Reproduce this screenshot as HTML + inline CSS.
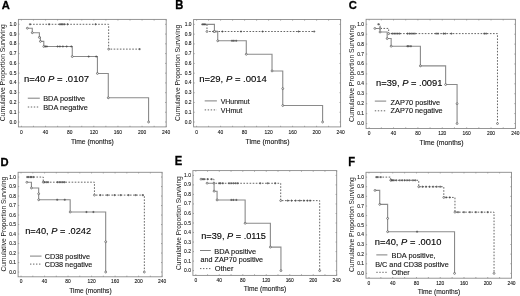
<!DOCTYPE html>
<html><head><meta charset="utf-8"><style>
html,body{margin:0;padding:0;background:#fff;}
svg{display:block;font-family:"Liberation Sans", sans-serif;filter:blur(0.3px);}
</style></head><body>
<svg width="520" height="296" viewBox="0 0 520 296">
<rect width="520" height="296" fill="#fff"/>
<text transform="translate(1.8 9.2) scale(1 1.0)" font-size="11.2" font-weight="bold" fill="#000" stroke="#000" stroke-width="0.3">A</text>
<rect x="18.4" y="19.4" width="147.8" height="107.5" fill="none" stroke="#8a8a8a" stroke-width="0.9"/>
<path d="M21.42 126.9v-1.1M21.42 19.4v1.1M33.48 126.9v-1.1M33.48 19.4v1.1M45.55 126.9v-1.1M45.55 19.4v1.1M57.61 126.9v-1.1M57.61 19.4v1.1M69.68 126.9v-1.1M69.68 19.4v1.1M81.74 126.9v-1.1M81.74 19.4v1.1M93.81 126.9v-1.1M93.81 19.4v1.1M105.87 126.9v-1.1M105.87 19.4v1.1M117.94 126.9v-1.1M117.94 19.4v1.1M130 126.9v-1.1M130 19.4v1.1M142.07 126.9v-1.1M142.07 19.4v1.1M154.13 126.9v-1.1M154.13 19.4v1.1M166.2 126.9v-1.1M166.2 19.4v1.1M18.4 122.01h1.1M166.2 122.01h-1.1M18.4 112.24h1.1M166.2 112.24h-1.1M18.4 102.47h1.1M166.2 102.47h-1.1M18.4 92.7h1.1M166.2 92.7h-1.1M18.4 82.92h1.1M166.2 82.92h-1.1M18.4 73.15h1.1M166.2 73.15h-1.1M18.4 63.38h1.1M166.2 63.38h-1.1M18.4 53.6h1.1M166.2 53.6h-1.1M18.4 43.83h1.1M166.2 43.83h-1.1M18.4 34.06h1.1M166.2 34.06h-1.1M18.4 24.29h1.1M166.2 24.29h-1.1" stroke="#8a8a8a" stroke-width="0.8" fill="none"/>
<text x="21.42" y="133.5" font-size="4.9" text-anchor="middle" fill="#151515" stroke="#151515" stroke-width="0.1">0</text>
<text x="45.55" y="133.5" font-size="4.9" text-anchor="middle" fill="#151515" stroke="#151515" stroke-width="0.1">40</text>
<text x="69.68" y="133.5" font-size="4.9" text-anchor="middle" fill="#151515" stroke="#151515" stroke-width="0.1">80</text>
<text x="93.81" y="133.5" font-size="4.9" text-anchor="middle" fill="#151515" stroke="#151515" stroke-width="0.1">120</text>
<text x="117.94" y="133.5" font-size="4.9" text-anchor="middle" fill="#151515" stroke="#151515" stroke-width="0.1">160</text>
<text x="142.07" y="133.5" font-size="4.9" text-anchor="middle" fill="#151515" stroke="#151515" stroke-width="0.1">200</text>
<text x="166.2" y="133.5" font-size="4.9" text-anchor="middle" fill="#151515" stroke="#151515" stroke-width="0.1">240</text>
<text x="16.4" y="123.51" font-size="4.9" text-anchor="end" fill="#151515" stroke="#151515" stroke-width="0.1">0.0</text>
<text x="16.4" y="113.74" font-size="4.9" text-anchor="end" fill="#151515" stroke="#151515" stroke-width="0.1">0.1</text>
<text x="16.4" y="103.97" font-size="4.9" text-anchor="end" fill="#151515" stroke="#151515" stroke-width="0.1">0.2</text>
<text x="16.4" y="94.2" font-size="4.9" text-anchor="end" fill="#151515" stroke="#151515" stroke-width="0.1">0.3</text>
<text x="16.4" y="84.42" font-size="4.9" text-anchor="end" fill="#151515" stroke="#151515" stroke-width="0.1">0.4</text>
<text x="16.4" y="74.65" font-size="4.9" text-anchor="end" fill="#151515" stroke="#151515" stroke-width="0.1">0.5</text>
<text x="16.4" y="64.88" font-size="4.9" text-anchor="end" fill="#151515" stroke="#151515" stroke-width="0.1">0.6</text>
<text x="16.4" y="55.1" font-size="4.9" text-anchor="end" fill="#151515" stroke="#151515" stroke-width="0.1">0.7</text>
<text x="16.4" y="45.33" font-size="4.9" text-anchor="end" fill="#151515" stroke="#151515" stroke-width="0.1">0.8</text>
<text x="16.4" y="35.56" font-size="4.9" text-anchor="end" fill="#151515" stroke="#151515" stroke-width="0.1">0.9</text>
<text x="16.4" y="25.79" font-size="4.9" text-anchor="end" fill="#151515" stroke="#151515" stroke-width="0.1">1.0</text>
<text x="70.9" y="143.6" font-size="6.5" textLength="42.9" lengthAdjust="spacingAndGlyphs" fill="#151515" stroke="#151515" stroke-width="0.1">Time (months)</text>
<text transform="translate(5.3 0) rotate(-90)" x="-121.2" y="0" font-size="6.5" textLength="96.9" lengthAdjust="spacingAndGlyphs" fill="#151515">Cumulative Proportion Surviving</text>
<path d="M29.98 24.29H108.65V49.11H139.66" stroke="#666" stroke-width="1.0" fill="none" stroke-dasharray="1.6 1.5"/>
<g fill="#fff" stroke="#4a4a4a" stroke-width="0.65"><circle cx="108.65" cy="49.11" r="0.95"/></g>
<path d="M48.01 24.29h2.2M49.11 23.19v2.2M58.8 24.29h2.2M59.9 23.19v2.2M60.13 24.29h2.2M61.23 23.19v2.2M61.64 24.29h2.2M62.74 23.19v2.2M63.15 24.29h2.2M64.25 23.19v2.2M66.41 24.29h2.2M67.51 23.19v2.2M94.46 24.29h2.2M95.56 23.19v2.2M28.88 24.29h2.2M29.98 23.19v2.2M138.56 49.11h2.2M139.66 48.01v2.2" stroke="#4a4a4a" stroke-width="0.7" fill="none"/>
<path d="M27.33 28.2H32.28V32.69H39.39V37.38H40.42V41.39H43.8V46.47H72.27V56.54H97.43V73.44H108.29V97.78H148.58V122.01" stroke="#8a8a8a" stroke-width="1.1" fill="none"/>
<g fill="#fff" stroke="#4a4a4a" stroke-width="0.65"><circle cx="27.33" cy="28.2" r="0.95"/><circle cx="32.28" cy="32.69" r="0.95"/><circle cx="39.39" cy="37.38" r="0.95"/><circle cx="40.42" cy="41.39" r="0.95"/><circle cx="43.8" cy="46.47" r="0.95"/><circle cx="72.27" cy="56.54" r="0.95"/><circle cx="97.43" cy="73.44" r="0.95"/><circle cx="108.29" cy="97.78" r="0.95"/><circle cx="148.58" cy="122.01" r="0.95"/></g>
<path d="M44.33 46.47h2.2M45.43 45.37v2.2M45.77 46.47h2.2M46.87 45.37v2.2M56.51 46.47h2.2M57.61 45.37v2.2M58.8 46.47h2.2M59.9 45.37v2.2M61.76 46.47h2.2M62.86 45.37v2.2M65.56 46.47h2.2M66.66 45.37v2.2M70.21 46.47h2.2M71.31 45.37v2.2M87.58 56.54h2.2M88.68 55.44v2.2M95.12 56.54h2.2M96.22 55.44v2.2" stroke="#4a4a4a" stroke-width="0.7" fill="none"/>
<text x="24" y="82.1" font-size="9.5" textLength="65" lengthAdjust="spacingAndGlyphs" fill="#000" stroke="#000" stroke-width="0.12" xml:space="preserve">n=40 <tspan font-style="italic">P</tspan> = .0107</text>
<path d="M27.8 98.2H39.8" stroke="#707070" stroke-width="0.9"/>
<path d="M27.8 107H39.8" stroke="#666" stroke-width="1.0" stroke-dasharray="1.4 1.6"/>
<text x="43.2" y="101.3" font-size="7.3" textLength="41.8" lengthAdjust="spacingAndGlyphs" fill="#151515" stroke="#151515" stroke-width="0.12">BDA positive</text>
<text x="43.2" y="109.8" font-size="7.3" textLength="44.7" lengthAdjust="spacingAndGlyphs" fill="#151515" stroke="#151515" stroke-width="0.12">BDA negative</text>
<text transform="translate(175.3 9) scale(1 1.1)" font-size="11.2" font-weight="bold" fill="#000" stroke="#000" stroke-width="0.3">B</text>
<rect x="193.6" y="19.5" width="147" height="107.4" fill="none" stroke="#8a8a8a" stroke-width="0.9"/>
<path d="M196.6 126.9v-1.1M196.6 19.5v1.1M208.6 126.9v-1.1M208.6 19.5v1.1M220.6 126.9v-1.1M220.6 19.5v1.1M232.6 126.9v-1.1M232.6 19.5v1.1M244.6 126.9v-1.1M244.6 19.5v1.1M256.6 126.9v-1.1M256.6 19.5v1.1M268.6 126.9v-1.1M268.6 19.5v1.1M280.6 126.9v-1.1M280.6 19.5v1.1M292.6 126.9v-1.1M292.6 19.5v1.1M304.6 126.9v-1.1M304.6 19.5v1.1M316.6 126.9v-1.1M316.6 19.5v1.1M328.6 126.9v-1.1M328.6 19.5v1.1M340.6 126.9v-1.1M340.6 19.5v1.1M193.6 122.02h1.1M340.6 122.02h-1.1M193.6 112.25h1.1M340.6 112.25h-1.1M193.6 102.49h1.1M340.6 102.49h-1.1M193.6 92.73h1.1M340.6 92.73h-1.1M193.6 82.96h1.1M340.6 82.96h-1.1M193.6 73.2h1.1M340.6 73.2h-1.1M193.6 63.44h1.1M340.6 63.44h-1.1M193.6 53.67h1.1M340.6 53.67h-1.1M193.6 43.91h1.1M340.6 43.91h-1.1M193.6 34.15h1.1M340.6 34.15h-1.1M193.6 24.38h1.1M340.6 24.38h-1.1" stroke="#8a8a8a" stroke-width="0.8" fill="none"/>
<text x="196.6" y="133.5" font-size="4.9" text-anchor="middle" fill="#151515" stroke="#151515" stroke-width="0.1">0</text>
<text x="220.6" y="133.5" font-size="4.9" text-anchor="middle" fill="#151515" stroke="#151515" stroke-width="0.1">40</text>
<text x="244.6" y="133.5" font-size="4.9" text-anchor="middle" fill="#151515" stroke="#151515" stroke-width="0.1">80</text>
<text x="268.6" y="133.5" font-size="4.9" text-anchor="middle" fill="#151515" stroke="#151515" stroke-width="0.1">120</text>
<text x="292.6" y="133.5" font-size="4.9" text-anchor="middle" fill="#151515" stroke="#151515" stroke-width="0.1">160</text>
<text x="316.6" y="133.5" font-size="4.9" text-anchor="middle" fill="#151515" stroke="#151515" stroke-width="0.1">200</text>
<text x="340.6" y="133.5" font-size="4.9" text-anchor="middle" fill="#151515" stroke="#151515" stroke-width="0.1">240</text>
<text x="191.6" y="123.52" font-size="4.9" text-anchor="end" fill="#151515" stroke="#151515" stroke-width="0.1">0.0</text>
<text x="191.6" y="113.75" font-size="4.9" text-anchor="end" fill="#151515" stroke="#151515" stroke-width="0.1">0.1</text>
<text x="191.6" y="103.99" font-size="4.9" text-anchor="end" fill="#151515" stroke="#151515" stroke-width="0.1">0.2</text>
<text x="191.6" y="94.23" font-size="4.9" text-anchor="end" fill="#151515" stroke="#151515" stroke-width="0.1">0.3</text>
<text x="191.6" y="84.46" font-size="4.9" text-anchor="end" fill="#151515" stroke="#151515" stroke-width="0.1">0.4</text>
<text x="191.6" y="74.7" font-size="4.9" text-anchor="end" fill="#151515" stroke="#151515" stroke-width="0.1">0.5</text>
<text x="191.6" y="64.94" font-size="4.9" text-anchor="end" fill="#151515" stroke="#151515" stroke-width="0.1">0.6</text>
<text x="191.6" y="55.17" font-size="4.9" text-anchor="end" fill="#151515" stroke="#151515" stroke-width="0.1">0.7</text>
<text x="191.6" y="45.41" font-size="4.9" text-anchor="end" fill="#151515" stroke="#151515" stroke-width="0.1">0.8</text>
<text x="191.6" y="35.65" font-size="4.9" text-anchor="end" fill="#151515" stroke="#151515" stroke-width="0.1">0.9</text>
<text x="191.6" y="25.88" font-size="4.9" text-anchor="end" fill="#151515" stroke="#151515" stroke-width="0.1">1.0</text>
<text x="245.6" y="143.6" font-size="6.5" textLength="44" lengthAdjust="spacingAndGlyphs" fill="#151515" stroke="#151515" stroke-width="0.1">Time (months)</text>
<text transform="translate(180.4 0) rotate(-90)" x="-121" y="0" font-size="6.5" textLength="96.2" lengthAdjust="spacingAndGlyphs" fill="#151515">Cumulative Proportion Surviving</text>
<path d="M206.98 24.38H206.98V31.51H314.2" stroke="#666" stroke-width="1.0" fill="none" stroke-dasharray="1.6 1.5"/>
<g fill="#fff" stroke="#4a4a4a" stroke-width="0.65"><circle cx="206.98" cy="31.51" r="0.95"/></g>
<path d="M212.3 31.51h2.2M213.4 30.41v2.2M214.1 31.51h2.2M215.2 30.41v2.2M215.9 31.51h2.2M217 30.41v2.2M221.3 31.51h2.2M222.4 30.41v2.2M239.9 31.51h2.2M241 30.41v2.2M261.5 31.51h2.2M262.6 30.41v2.2M297.5 31.51h2.2M298.6 30.41v2.2M313.1 31.51h2.2M314.2 30.41v2.2" stroke="#4a4a4a" stroke-width="0.7" fill="none"/>
<path d="M202.3 24.38H214.42V31.51H217.72V40.78H246.28V54.26H272.02V70.95H282.76V88.63H282.76V105.52H322.6V122.02" stroke="#8a8a8a" stroke-width="1.1" fill="none"/>
<g fill="#fff" stroke="#4a4a4a" stroke-width="0.65"><circle cx="214.42" cy="31.51" r="0.95"/><circle cx="217.72" cy="40.78" r="0.95"/><circle cx="246.28" cy="54.26" r="0.95"/><circle cx="272.02" cy="70.95" r="0.95"/><circle cx="282.76" cy="88.63" r="0.95"/><circle cx="282.76" cy="105.52" r="0.95"/><circle cx="322.6" cy="122.02" r="0.95"/></g>
<path d="M230.9 40.78h2.2M232 39.68v2.2M232.7 40.78h2.2M233.8 39.68v2.2M235.1 40.78h2.2M236.2 39.68v2.2M202.7 24.38h2.2M203.8 23.28v2.2M203.9 24.38h2.2M205 23.28v2.2M201.2 24.38h2.2M202.3 23.28v2.2" stroke="#4a4a4a" stroke-width="0.7" fill="none"/>
<text x="199.2" y="82.4" font-size="9.5" textLength="67.7" lengthAdjust="spacingAndGlyphs" fill="#000" stroke="#000" stroke-width="0.12" xml:space="preserve">n=29, <tspan font-style="italic">P</tspan> = .0014</text>
<path d="M204.7 100.9H216.9" stroke="#707070" stroke-width="0.9"/>
<path d="M204.7 109.9H216.9" stroke="#666" stroke-width="1.0" stroke-dasharray="1.4 1.6"/>
<text x="220.7" y="103.8" font-size="7.3" textLength="28.9" lengthAdjust="spacingAndGlyphs" fill="#151515" stroke="#151515" stroke-width="0.12">VHunmut</text>
<text x="220.7" y="112.5" font-size="7.3" textLength="21.5" lengthAdjust="spacingAndGlyphs" fill="#151515" stroke="#151515" stroke-width="0.12">VHmut</text>
<text transform="translate(348.8 9.2) scale(1 1.02)" font-size="11.2" font-weight="bold" fill="#000" stroke="#000" stroke-width="0.3">C</text>
<rect x="366.1" y="19.3" width="149.3" height="109.2" fill="none" stroke="#8a8a8a" stroke-width="0.9"/>
<path d="M369.15 128.5v-1.1M369.15 19.3v1.1M381.33 128.5v-1.1M381.33 19.3v1.1M393.52 128.5v-1.1M393.52 19.3v1.1M405.71 128.5v-1.1M405.71 19.3v1.1M417.9 128.5v-1.1M417.9 19.3v1.1M430.09 128.5v-1.1M430.09 19.3v1.1M442.27 128.5v-1.1M442.27 19.3v1.1M454.46 128.5v-1.1M454.46 19.3v1.1M466.65 128.5v-1.1M466.65 19.3v1.1M478.84 128.5v-1.1M478.84 19.3v1.1M491.02 128.5v-1.1M491.02 19.3v1.1M503.21 128.5v-1.1M503.21 19.3v1.1M515.4 128.5v-1.1M515.4 19.3v1.1M366.1 123.54h1.1M515.4 123.54h-1.1M366.1 113.61h1.1M515.4 113.61h-1.1M366.1 103.68h1.1M515.4 103.68h-1.1M366.1 93.75h1.1M515.4 93.75h-1.1M366.1 83.83h1.1M515.4 83.83h-1.1M366.1 73.9h1.1M515.4 73.9h-1.1M366.1 63.97h1.1M515.4 63.97h-1.1M366.1 54.05h1.1M515.4 54.05h-1.1M366.1 44.12h1.1M515.4 44.12h-1.1M366.1 34.19h1.1M515.4 34.19h-1.1M366.1 24.26h1.1M515.4 24.26h-1.1" stroke="#8a8a8a" stroke-width="0.8" fill="none"/>
<text x="369.15" y="135.1" font-size="4.9" text-anchor="middle" fill="#151515" stroke="#151515" stroke-width="0.1">0</text>
<text x="393.52" y="135.1" font-size="4.9" text-anchor="middle" fill="#151515" stroke="#151515" stroke-width="0.1">40</text>
<text x="417.9" y="135.1" font-size="4.9" text-anchor="middle" fill="#151515" stroke="#151515" stroke-width="0.1">80</text>
<text x="442.27" y="135.1" font-size="4.9" text-anchor="middle" fill="#151515" stroke="#151515" stroke-width="0.1">120</text>
<text x="466.65" y="135.1" font-size="4.9" text-anchor="middle" fill="#151515" stroke="#151515" stroke-width="0.1">160</text>
<text x="491.02" y="135.1" font-size="4.9" text-anchor="middle" fill="#151515" stroke="#151515" stroke-width="0.1">200</text>
<text x="515.4" y="135.1" font-size="4.9" text-anchor="middle" fill="#151515" stroke="#151515" stroke-width="0.1">240</text>
<text x="364.1" y="125.04" font-size="4.9" text-anchor="end" fill="#151515" stroke="#151515" stroke-width="0.1">0.0</text>
<text x="364.1" y="115.11" font-size="4.9" text-anchor="end" fill="#151515" stroke="#151515" stroke-width="0.1">0.1</text>
<text x="364.1" y="105.18" font-size="4.9" text-anchor="end" fill="#151515" stroke="#151515" stroke-width="0.1">0.2</text>
<text x="364.1" y="95.25" font-size="4.9" text-anchor="end" fill="#151515" stroke="#151515" stroke-width="0.1">0.3</text>
<text x="364.1" y="85.33" font-size="4.9" text-anchor="end" fill="#151515" stroke="#151515" stroke-width="0.1">0.4</text>
<text x="364.1" y="75.4" font-size="4.9" text-anchor="end" fill="#151515" stroke="#151515" stroke-width="0.1">0.5</text>
<text x="364.1" y="65.47" font-size="4.9" text-anchor="end" fill="#151515" stroke="#151515" stroke-width="0.1">0.6</text>
<text x="364.1" y="55.55" font-size="4.9" text-anchor="end" fill="#151515" stroke="#151515" stroke-width="0.1">0.7</text>
<text x="364.1" y="45.62" font-size="4.9" text-anchor="end" fill="#151515" stroke="#151515" stroke-width="0.1">0.8</text>
<text x="364.1" y="35.69" font-size="4.9" text-anchor="end" fill="#151515" stroke="#151515" stroke-width="0.1">0.9</text>
<text x="364.1" y="25.76" font-size="4.9" text-anchor="end" fill="#151515" stroke="#151515" stroke-width="0.1">1.0</text>
<text x="419.6" y="145.1" font-size="6.5" textLength="44" lengthAdjust="spacingAndGlyphs" fill="#151515" stroke="#151515" stroke-width="0.1">Time (months)</text>
<text transform="translate(353.9 0) rotate(-90)" x="-122" y="0" font-size="6.5" textLength="97" lengthAdjust="spacingAndGlyphs" fill="#151515">Cumulative Proportion Surviving</text>
<path d="M378.35 24.26H380.05V28.43H388.65V33.6H497.48V123.54" stroke="#666" stroke-width="1.0" fill="none" stroke-dasharray="1.6 1.5"/>
<g fill="#fff" stroke="#4a4a4a" stroke-width="0.65"><circle cx="380.05" cy="28.43" r="0.95"/><circle cx="388.65" cy="33.6" r="0.95"/><circle cx="497.48" cy="123.54" r="0.95"/></g>
<path d="M391.2 33.6h2.2M392.3 32.5v2.2M393.03 33.6h2.2M394.13 32.5v2.2M394.86 33.6h2.2M395.96 32.5v2.2M396.69 33.6h2.2M397.79 32.5v2.2M398.52 33.6h2.2M399.62 32.5v2.2M406.44 33.6h2.2M407.54 32.5v2.2M408.27 33.6h2.2M409.37 32.5v2.2M410.09 33.6h2.2M411.19 32.5v2.2M411.92 33.6h2.2M413.02 32.5v2.2M413.75 33.6h2.2M414.85 32.5v2.2M435.08 33.6h2.2M436.18 32.5v2.2M436.91 33.6h2.2M438.01 32.5v2.2M442.39 33.6h2.2M443.49 32.5v2.2M444.22 33.6h2.2M445.32 32.5v2.2M450.31 33.6h2.2M451.41 32.5v2.2M483.22 33.6h2.2M484.32 32.5v2.2M485.05 33.6h2.2M486.15 32.5v2.2M377.25 24.26h2.2M378.35 23.16v2.2" stroke="#4a4a4a" stroke-width="0.7" fill="none"/>
<path d="M374.88 28.43H380.05V32.01H387.18V38.56H391.15V46.2H420.4V65.86H445.63V84.52H457.08V103.68H457.08V123.54" stroke="#8a8a8a" stroke-width="1.1" fill="none"/>
<g fill="#fff" stroke="#4a4a4a" stroke-width="0.65"><circle cx="374.88" cy="28.43" r="0.95"/><circle cx="380.05" cy="32.01" r="0.95"/><circle cx="387.18" cy="38.56" r="0.95"/><circle cx="391.15" cy="46.2" r="0.95"/><circle cx="420.4" cy="65.86" r="0.95"/><circle cx="445.63" cy="84.52" r="0.95"/><circle cx="457.08" cy="103.68" r="0.95"/><circle cx="457.08" cy="123.54" r="0.95"/></g>
<path d="M406.32 46.2h2.2M407.42 45.1v2.2M407.66 46.2h2.2M408.76 45.1v2.2M409.79 46.2h2.2M410.89 45.1v2.2" stroke="#4a4a4a" stroke-width="0.7" fill="none"/>
<text x="376" y="85.5" font-size="9.5" textLength="66.4" lengthAdjust="spacingAndGlyphs" fill="#000" stroke="#000" stroke-width="0.12" xml:space="preserve">n=39, <tspan font-style="italic">P</tspan> = .0091</text>
<path d="M374.8 101.1H386.2" stroke="#707070" stroke-width="0.9"/>
<path d="M374.8 110.8H386.2" stroke="#666" stroke-width="1.0" stroke-dasharray="1.4 1.6"/>
<text x="390.6" y="104.7" font-size="7.3" textLength="49.5" lengthAdjust="spacingAndGlyphs" fill="#151515" stroke="#151515" stroke-width="0.12">ZAP70 positive</text>
<text x="390.6" y="113.2" font-size="7.3" textLength="52.1" lengthAdjust="spacingAndGlyphs" fill="#151515" stroke="#151515" stroke-width="0.12">ZAP70 negative</text>
<text transform="translate(0.5 165.7) scale(1 1.05)" font-size="11.2" font-weight="bold" fill="#000" stroke="#000" stroke-width="0.3">D</text>
<rect x="18.1" y="172.3" width="144" height="104.5" fill="none" stroke="#8a8a8a" stroke-width="0.9"/>
<path d="M21.04 276.8v-1.1M21.04 172.3v1.1M32.79 276.8v-1.1M32.79 172.3v1.1M44.55 276.8v-1.1M44.55 172.3v1.1M56.3 276.8v-1.1M56.3 172.3v1.1M68.06 276.8v-1.1M68.06 172.3v1.1M79.81 276.8v-1.1M79.81 172.3v1.1M91.57 276.8v-1.1M91.57 172.3v1.1M103.32 276.8v-1.1M103.32 172.3v1.1M115.08 276.8v-1.1M115.08 172.3v1.1M126.83 276.8v-1.1M126.83 172.3v1.1M138.59 276.8v-1.1M138.59 172.3v1.1M150.34 276.8v-1.1M150.34 172.3v1.1M162.1 276.8v-1.1M162.1 172.3v1.1M18.1 272.05h1.1M162.1 272.05h-1.1M18.1 262.55h1.1M162.1 262.55h-1.1M18.1 253.05h1.1M162.1 253.05h-1.1M18.1 243.55h1.1M162.1 243.55h-1.1M18.1 234.05h1.1M162.1 234.05h-1.1M18.1 224.55h1.1M162.1 224.55h-1.1M18.1 215.05h1.1M162.1 215.05h-1.1M18.1 205.55h1.1M162.1 205.55h-1.1M18.1 196.05h1.1M162.1 196.05h-1.1M18.1 186.55h1.1M162.1 186.55h-1.1M18.1 177.05h1.1M162.1 177.05h-1.1" stroke="#8a8a8a" stroke-width="0.8" fill="none"/>
<text x="21.04" y="283.4" font-size="4.9" text-anchor="middle" fill="#151515" stroke="#151515" stroke-width="0.1">0</text>
<text x="44.55" y="283.4" font-size="4.9" text-anchor="middle" fill="#151515" stroke="#151515" stroke-width="0.1">40</text>
<text x="68.06" y="283.4" font-size="4.9" text-anchor="middle" fill="#151515" stroke="#151515" stroke-width="0.1">80</text>
<text x="91.57" y="283.4" font-size="4.9" text-anchor="middle" fill="#151515" stroke="#151515" stroke-width="0.1">120</text>
<text x="115.08" y="283.4" font-size="4.9" text-anchor="middle" fill="#151515" stroke="#151515" stroke-width="0.1">160</text>
<text x="138.59" y="283.4" font-size="4.9" text-anchor="middle" fill="#151515" stroke="#151515" stroke-width="0.1">200</text>
<text x="162.1" y="283.4" font-size="4.9" text-anchor="middle" fill="#151515" stroke="#151515" stroke-width="0.1">240</text>
<text x="16.1" y="273.55" font-size="4.9" text-anchor="end" fill="#151515" stroke="#151515" stroke-width="0.1">0.0</text>
<text x="16.1" y="264.05" font-size="4.9" text-anchor="end" fill="#151515" stroke="#151515" stroke-width="0.1">0.1</text>
<text x="16.1" y="254.55" font-size="4.9" text-anchor="end" fill="#151515" stroke="#151515" stroke-width="0.1">0.2</text>
<text x="16.1" y="245.05" font-size="4.9" text-anchor="end" fill="#151515" stroke="#151515" stroke-width="0.1">0.3</text>
<text x="16.1" y="235.55" font-size="4.9" text-anchor="end" fill="#151515" stroke="#151515" stroke-width="0.1">0.4</text>
<text x="16.1" y="226.05" font-size="4.9" text-anchor="end" fill="#151515" stroke="#151515" stroke-width="0.1">0.5</text>
<text x="16.1" y="216.55" font-size="4.9" text-anchor="end" fill="#151515" stroke="#151515" stroke-width="0.1">0.6</text>
<text x="16.1" y="207.05" font-size="4.9" text-anchor="end" fill="#151515" stroke="#151515" stroke-width="0.1">0.7</text>
<text x="16.1" y="197.55" font-size="4.9" text-anchor="end" fill="#151515" stroke="#151515" stroke-width="0.1">0.8</text>
<text x="16.1" y="188.05" font-size="4.9" text-anchor="end" fill="#151515" stroke="#151515" stroke-width="0.1">0.9</text>
<text x="16.1" y="178.55" font-size="4.9" text-anchor="end" fill="#151515" stroke="#151515" stroke-width="0.1">1.0</text>
<text x="69.2" y="293.1" font-size="6.5" textLength="42.4" lengthAdjust="spacingAndGlyphs" fill="#151515" stroke="#151515" stroke-width="0.1">Time (months)</text>
<text transform="translate(5.9 0) rotate(-90)" x="-271.5" y="0" font-size="6.5" textLength="94.7" lengthAdjust="spacingAndGlyphs" fill="#151515">Cumulative Proportion Surviving</text>
<path d="M27.15 177.05H43.26V182.18H94.45V195.1H144.35V272.05" stroke="#666" stroke-width="1.0" fill="none" stroke-dasharray="1.6 1.5"/>
<g fill="#fff" stroke="#4a4a4a" stroke-width="0.65"><circle cx="43.26" cy="182.18" r="0.95"/><circle cx="94.45" cy="195.1" r="0.95"/><circle cx="144.35" cy="272.05" r="0.95"/></g>
<path d="M27.58 177.05h2.2M28.68 175.95v2.2M29.34 177.05h2.2M30.44 175.95v2.2M30.52 177.05h2.2M31.62 175.95v2.2M32.28 177.05h2.2M33.38 175.95v2.2M43.45 182.18h2.2M44.55 181.08v2.2M45.21 182.18h2.2M46.31 181.08v2.2M46.98 182.18h2.2M48.08 181.08v2.2M56.38 182.18h2.2M57.48 181.08v2.2M58.14 182.18h2.2M59.24 181.08v2.2M59.91 182.18h2.2M61.01 181.08v2.2M61.67 182.18h2.2M62.77 181.08v2.2M63.43 182.18h2.2M64.53 181.08v2.2M99.29 195.1h2.2M100.39 194v2.2M106.34 195.1h2.2M107.44 194v2.2M113.39 195.1h2.2M114.49 194v2.2M119.56 195.1h2.2M120.66 194v2.2M127.5 195.1h2.2M128.6 194v2.2M134.55 195.1h2.2M135.65 194v2.2M141.6 195.1h2.2M142.7 194v2.2M26.05 177.05h2.2M27.15 175.95v2.2" stroke="#4a4a4a" stroke-width="0.7" fill="none"/>
<path d="M26.86 182.28H31.44V187.98H38.67V193.77H38.67V199.75H70.18V212.01H105.68V241.75H105.68V272.05" stroke="#8a8a8a" stroke-width="1.1" fill="none"/>
<g fill="#fff" stroke="#4a4a4a" stroke-width="0.65"><circle cx="26.86" cy="182.28" r="0.95"/><circle cx="31.44" cy="187.98" r="0.95"/><circle cx="38.67" cy="193.77" r="0.95"/><circle cx="38.67" cy="199.75" r="0.95"/><circle cx="70.18" cy="212.01" r="0.95"/><circle cx="105.68" cy="241.75" r="0.95"/><circle cx="105.68" cy="272.05" r="0.95"/></g>
<path d="M56.09 199.75h2.2M57.19 198.66v2.2M63.67 199.75h2.2M64.77 198.66v2.2M85.36 212.01h2.2M86.46 210.91v2.2M92.29 212.01h2.2M93.39 210.91v2.2" stroke="#4a4a4a" stroke-width="0.7" fill="none"/>
<text x="25.2" y="234.3" font-size="9.5" textLength="65.9" lengthAdjust="spacingAndGlyphs" fill="#000" stroke="#000" stroke-width="0.12" xml:space="preserve">n=40, <tspan font-style="italic">P</tspan> = .0242</text>
<path d="M30 256.1H41.5" stroke="#707070" stroke-width="0.9"/>
<path d="M30 264.1H41.5" stroke="#666" stroke-width="1.0" stroke-dasharray="1.4 1.6"/>
<text x="44.7" y="258.7" font-size="7.3" textLength="45.3" lengthAdjust="spacingAndGlyphs" fill="#151515" stroke="#151515" stroke-width="0.12">CD38 positive</text>
<text x="44.7" y="266.8" font-size="7.3" textLength="47.7" lengthAdjust="spacingAndGlyphs" fill="#151515" stroke="#151515" stroke-width="0.12">CD38 negative</text>
<text transform="translate(174.7 165.3) scale(1 1.12)" font-size="11.2" font-weight="bold" fill="#000" stroke="#000" stroke-width="0.3">E</text>
<rect x="192.9" y="170.6" width="143.8" height="104.8" fill="none" stroke="#8a8a8a" stroke-width="0.9"/>
<path d="M195.83 275.4v-1.1M195.83 170.6v1.1M207.57 275.4v-1.1M207.57 170.6v1.1M219.31 275.4v-1.1M219.31 170.6v1.1M231.05 275.4v-1.1M231.05 170.6v1.1M242.79 275.4v-1.1M242.79 170.6v1.1M254.53 275.4v-1.1M254.53 170.6v1.1M266.27 275.4v-1.1M266.27 170.6v1.1M278.01 275.4v-1.1M278.01 170.6v1.1M289.74 275.4v-1.1M289.74 170.6v1.1M301.48 275.4v-1.1M301.48 170.6v1.1M313.22 275.4v-1.1M313.22 170.6v1.1M324.96 275.4v-1.1M324.96 170.6v1.1M336.7 275.4v-1.1M336.7 170.6v1.1M192.9 270.64h1.1M336.7 270.64h-1.1M192.9 261.11h1.1M336.7 261.11h-1.1M192.9 251.58h1.1M336.7 251.58h-1.1M192.9 242.05h1.1M336.7 242.05h-1.1M192.9 232.53h1.1M336.7 232.53h-1.1M192.9 223h1.1M336.7 223h-1.1M192.9 213.47h1.1M336.7 213.47h-1.1M192.9 203.95h1.1M336.7 203.95h-1.1M192.9 194.42h1.1M336.7 194.42h-1.1M192.9 184.89h1.1M336.7 184.89h-1.1M192.9 175.36h1.1M336.7 175.36h-1.1" stroke="#8a8a8a" stroke-width="0.8" fill="none"/>
<text x="195.83" y="282" font-size="4.9" text-anchor="middle" fill="#151515" stroke="#151515" stroke-width="0.1">0</text>
<text x="219.31" y="282" font-size="4.9" text-anchor="middle" fill="#151515" stroke="#151515" stroke-width="0.1">40</text>
<text x="242.79" y="282" font-size="4.9" text-anchor="middle" fill="#151515" stroke="#151515" stroke-width="0.1">80</text>
<text x="266.27" y="282" font-size="4.9" text-anchor="middle" fill="#151515" stroke="#151515" stroke-width="0.1">120</text>
<text x="289.74" y="282" font-size="4.9" text-anchor="middle" fill="#151515" stroke="#151515" stroke-width="0.1">160</text>
<text x="313.22" y="282" font-size="4.9" text-anchor="middle" fill="#151515" stroke="#151515" stroke-width="0.1">200</text>
<text x="336.7" y="282" font-size="4.9" text-anchor="middle" fill="#151515" stroke="#151515" stroke-width="0.1">240</text>
<text x="190.9" y="272.14" font-size="4.9" text-anchor="end" fill="#151515" stroke="#151515" stroke-width="0.1">0.0</text>
<text x="190.9" y="262.61" font-size="4.9" text-anchor="end" fill="#151515" stroke="#151515" stroke-width="0.1">0.1</text>
<text x="190.9" y="253.08" font-size="4.9" text-anchor="end" fill="#151515" stroke="#151515" stroke-width="0.1">0.2</text>
<text x="190.9" y="243.55" font-size="4.9" text-anchor="end" fill="#151515" stroke="#151515" stroke-width="0.1">0.3</text>
<text x="190.9" y="234.03" font-size="4.9" text-anchor="end" fill="#151515" stroke="#151515" stroke-width="0.1">0.4</text>
<text x="190.9" y="224.5" font-size="4.9" text-anchor="end" fill="#151515" stroke="#151515" stroke-width="0.1">0.5</text>
<text x="190.9" y="214.97" font-size="4.9" text-anchor="end" fill="#151515" stroke="#151515" stroke-width="0.1">0.6</text>
<text x="190.9" y="205.45" font-size="4.9" text-anchor="end" fill="#151515" stroke="#151515" stroke-width="0.1">0.7</text>
<text x="190.9" y="195.92" font-size="4.9" text-anchor="end" fill="#151515" stroke="#151515" stroke-width="0.1">0.8</text>
<text x="190.9" y="186.39" font-size="4.9" text-anchor="end" fill="#151515" stroke="#151515" stroke-width="0.1">0.9</text>
<text x="190.9" y="176.86" font-size="4.9" text-anchor="end" fill="#151515" stroke="#151515" stroke-width="0.1">1.0</text>
<text x="243.7" y="291.3" font-size="6.5" textLength="42.6" lengthAdjust="spacingAndGlyphs" fill="#151515" stroke="#151515" stroke-width="0.1">Time (months)</text>
<text transform="translate(180.5 0) rotate(-90)" x="-270" y="0" font-size="6.5" textLength="93.7" lengthAdjust="spacingAndGlyphs" fill="#151515">Cumulative Proportion Surviving</text>
<path d="M201 179.17H213.91V183.27H280.71V200.61H319.68V270.64" stroke="#666" stroke-width="1.0" fill="none" stroke-dasharray="1.6 1.5"/>
<g fill="#fff" stroke="#4a4a4a" stroke-width="0.65"><circle cx="201" cy="179.17" r="0.95"/><circle cx="213.91" cy="183.27" r="0.95"/><circle cx="280.71" cy="200.61" r="0.95"/><circle cx="319.68" cy="270.64" r="0.95"/></g>
<path d="M201.78 179.17h2.2M202.88 178.07v2.2M202.95 179.17h2.2M204.05 178.07v2.2M206.47 179.17h2.2M207.57 178.07v2.2M210.58 179.17h2.2M211.68 178.07v2.2M218.04 183.27h2.2M219.14 182.17v2.2M219.39 183.27h2.2M220.49 182.17v2.2M221.73 183.27h2.2M222.83 182.17v2.2M227.96 183.27h2.2M229.06 182.17v2.2M229.95 183.27h2.2M231.05 182.17v2.2M232.3 183.27h2.2M233.4 182.17v2.2M234.65 183.27h2.2M235.75 182.17v2.2M236.64 183.27h2.2M237.74 182.17v2.2M259.12 183.27h2.2M260.22 182.17v2.2M266.63 183.27h2.2M267.73 182.17v2.2M274.09 183.27h2.2M275.19 182.17v2.2M286.59 200.61h2.2M287.69 199.51v2.2M290.41 200.61h2.2M291.51 199.51v2.2M294.51 200.61h2.2M295.61 199.51v2.2M298.62 200.61h2.2M299.72 199.51v2.2M302.73 200.61h2.2M303.83 199.51v2.2M306.25 200.61h2.2M307.35 199.51v2.2M309.01 200.61h2.2M310.11 199.51v2.2" stroke="#4a4a4a" stroke-width="0.7" fill="none"/>
<path d="M207.1 183.18H214.09V191.18H217.08V199.94H245.14V223.29H270.38V247.1H280.94V270.64" stroke="#8a8a8a" stroke-width="1.1" fill="none"/>
<g fill="#fff" stroke="#4a4a4a" stroke-width="0.65"><circle cx="207.1" cy="183.18" r="0.95"/><circle cx="214.09" cy="191.18" r="0.95"/><circle cx="217.08" cy="199.94" r="0.95"/><circle cx="245.14" cy="223.29" r="0.95"/><circle cx="270.38" cy="247.1" r="0.95"/><circle cx="280.94" cy="270.64" r="0.95"/></g>
<path d="M230.24 199.94h2.2M231.34 198.84v2.2M232.3 199.94h2.2M233.4 198.84v2.2M235.23 199.94h2.2M236.33 198.84v2.2" stroke="#4a4a4a" stroke-width="0.7" fill="none"/>
<text x="201.2" y="238.9" font-size="9.5" textLength="64.8" lengthAdjust="spacingAndGlyphs" fill="#000" stroke="#000" stroke-width="0.12" xml:space="preserve">n=39, <tspan font-style="italic">P</tspan> = .0115</text>
<path d="M200 250.5H210.8" stroke="#707070" stroke-width="0.9"/>
<path d="M200 268.6H210.8" stroke="#666" stroke-width="1.0" stroke-dasharray="1.4 1.6"/>
<text x="214.2" y="254.1" font-size="7.3" textLength="42" lengthAdjust="spacingAndGlyphs" fill="#151515" stroke="#151515" stroke-width="0.12">BDA positive</text>
<text x="200.6" y="262.2" font-size="7.3" textLength="62.5" lengthAdjust="spacingAndGlyphs" fill="#151515" stroke="#151515" stroke-width="0.12">and ZAP70 positive</text>
<text x="214.7" y="270.9" font-size="7.3" textLength="18.7" lengthAdjust="spacingAndGlyphs" fill="#151515" stroke="#151515" stroke-width="0.12">Other</text>
<text transform="translate(348.2 165.8) scale(1 1.12)" font-size="11.2" font-weight="bold" fill="#000" stroke="#000" stroke-width="0.3">F</text>
<rect x="366" y="172.3" width="145.5" height="105.9" fill="none" stroke="#8a8a8a" stroke-width="0.9"/>
<path d="M368.97 278.2v-1.1M368.97 172.3v1.1M380.85 278.2v-1.1M380.85 172.3v1.1M392.72 278.2v-1.1M392.72 172.3v1.1M404.6 278.2v-1.1M404.6 172.3v1.1M416.48 278.2v-1.1M416.48 172.3v1.1M428.36 278.2v-1.1M428.36 172.3v1.1M440.23 278.2v-1.1M440.23 172.3v1.1M452.11 278.2v-1.1M452.11 172.3v1.1M463.99 278.2v-1.1M463.99 172.3v1.1M475.87 278.2v-1.1M475.87 172.3v1.1M487.74 278.2v-1.1M487.74 172.3v1.1M499.62 278.2v-1.1M499.62 172.3v1.1M511.5 278.2v-1.1M511.5 172.3v1.1M366 273.39h1.1M511.5 273.39h-1.1M366 263.76h1.1M511.5 263.76h-1.1M366 254.13h1.1M511.5 254.13h-1.1M366 244.5h1.1M511.5 244.5h-1.1M366 234.88h1.1M511.5 234.88h-1.1M366 225.25h1.1M511.5 225.25h-1.1M366 215.62h1.1M511.5 215.62h-1.1M366 206h1.1M511.5 206h-1.1M366 196.37h1.1M511.5 196.37h-1.1M366 186.74h1.1M511.5 186.74h-1.1M366 177.11h1.1M511.5 177.11h-1.1" stroke="#8a8a8a" stroke-width="0.8" fill="none"/>
<text x="368.97" y="284.8" font-size="4.9" text-anchor="middle" fill="#151515" stroke="#151515" stroke-width="0.1">0</text>
<text x="392.72" y="284.8" font-size="4.9" text-anchor="middle" fill="#151515" stroke="#151515" stroke-width="0.1">40</text>
<text x="416.48" y="284.8" font-size="4.9" text-anchor="middle" fill="#151515" stroke="#151515" stroke-width="0.1">80</text>
<text x="440.23" y="284.8" font-size="4.9" text-anchor="middle" fill="#151515" stroke="#151515" stroke-width="0.1">120</text>
<text x="463.99" y="284.8" font-size="4.9" text-anchor="middle" fill="#151515" stroke="#151515" stroke-width="0.1">160</text>
<text x="487.74" y="284.8" font-size="4.9" text-anchor="middle" fill="#151515" stroke="#151515" stroke-width="0.1">200</text>
<text x="511.5" y="284.8" font-size="4.9" text-anchor="middle" fill="#151515" stroke="#151515" stroke-width="0.1">240</text>
<text x="364" y="274.89" font-size="4.9" text-anchor="end" fill="#151515" stroke="#151515" stroke-width="0.1">0.0</text>
<text x="364" y="265.26" font-size="4.9" text-anchor="end" fill="#151515" stroke="#151515" stroke-width="0.1">0.1</text>
<text x="364" y="255.63" font-size="4.9" text-anchor="end" fill="#151515" stroke="#151515" stroke-width="0.1">0.2</text>
<text x="364" y="246" font-size="4.9" text-anchor="end" fill="#151515" stroke="#151515" stroke-width="0.1">0.3</text>
<text x="364" y="236.38" font-size="4.9" text-anchor="end" fill="#151515" stroke="#151515" stroke-width="0.1">0.4</text>
<text x="364" y="226.75" font-size="4.9" text-anchor="end" fill="#151515" stroke="#151515" stroke-width="0.1">0.5</text>
<text x="364" y="217.12" font-size="4.9" text-anchor="end" fill="#151515" stroke="#151515" stroke-width="0.1">0.6</text>
<text x="364" y="207.5" font-size="4.9" text-anchor="end" fill="#151515" stroke="#151515" stroke-width="0.1">0.7</text>
<text x="364" y="197.87" font-size="4.9" text-anchor="end" fill="#151515" stroke="#151515" stroke-width="0.1">0.8</text>
<text x="364" y="188.24" font-size="4.9" text-anchor="end" fill="#151515" stroke="#151515" stroke-width="0.1">0.9</text>
<text x="364" y="178.61" font-size="4.9" text-anchor="end" fill="#151515" stroke="#151515" stroke-width="0.1">1.0</text>
<text x="417.7" y="294.4" font-size="6.5" textLength="42.6" lengthAdjust="spacingAndGlyphs" fill="#151515" stroke="#151515" stroke-width="0.1">Time (months)</text>
<text transform="translate(353.9 0) rotate(-90)" x="-272" y="0" font-size="6.5" textLength="94.7" lengthAdjust="spacingAndGlyphs" fill="#151515">Cumulative Proportion Surviving</text>
<path d="M376.27 177.11H390.71V180.29H418.74V186.74H443.8V197.43H454.96V212.16H494.04V273.39" stroke="#666" stroke-width="1.0" fill="none" stroke-dasharray="1.6 1.5"/>
<g fill="#fff" stroke="#4a4a4a" stroke-width="0.65"><circle cx="390.71" cy="180.29" r="0.95"/><circle cx="418.74" cy="186.74" r="0.95"/><circle cx="443.8" cy="197.43" r="0.95"/><circle cx="454.96" cy="212.16" r="0.95"/><circle cx="494.04" cy="273.39" r="0.95"/></g>
<path d="M376.78 177.11h2.2M377.88 176.01v2.2M379.75 177.11h2.2M380.85 176.01v2.2M390.44 180.29h2.2M391.54 179.19v2.2M391.62 180.29h2.2M392.72 179.19v2.2M392.81 180.29h2.2M393.91 179.19v2.2M395.19 180.29h2.2M396.29 179.19v2.2M398.75 180.29h2.2M399.85 179.19v2.2M401.13 180.29h2.2M402.23 179.19v2.2M403.5 180.29h2.2M404.6 179.19v2.2M405.88 180.29h2.2M406.98 179.19v2.2M408.25 180.29h2.2M409.35 179.19v2.2M411.82 180.29h2.2M412.92 179.19v2.2M414.19 180.29h2.2M415.29 179.19v2.2M421.32 186.74h2.2M422.42 185.64v2.2M424.88 186.74h2.2M425.98 185.64v2.2M428.44 186.74h2.2M429.54 185.64v2.2M432.01 186.74h2.2M433.11 185.64v2.2M435.57 186.74h2.2M436.67 185.64v2.2M439.13 186.74h2.2M440.23 185.64v2.2M445.07 197.43h2.2M446.17 196.33v2.2M448.64 197.43h2.2M449.74 196.33v2.2M456.95 212.16h2.2M458.05 211.06v2.2M462.89 212.16h2.2M463.99 211.06v2.2M468.83 212.16h2.2M469.93 211.06v2.2M474.77 212.16h2.2M475.87 211.06v2.2M480.71 212.16h2.2M481.81 211.06v2.2M486.64 212.16h2.2M487.74 211.06v2.2M375.17 177.11h2.2M376.27 176.01v2.2" stroke="#4a4a4a" stroke-width="0.7" fill="none"/>
<path d="M374.97 190.4H379.72V204.36H387.62V218.41H387.62V231.7H454.55V273.39" stroke="#8a8a8a" stroke-width="1.1" fill="none"/>
<g fill="#fff" stroke="#4a4a4a" stroke-width="0.65"><circle cx="374.97" cy="190.4" r="0.95"/><circle cx="379.72" cy="204.36" r="0.95"/><circle cx="387.62" cy="218.41" r="0.95"/><circle cx="387.62" cy="231.7" r="0.95"/><circle cx="454.55" cy="273.39" r="0.95"/></g>
<path d="M415.97 231.7h2.2M417.07 230.6v2.2" stroke="#4a4a4a" stroke-width="0.7" fill="none"/>
<text x="374.8" y="244.7" font-size="9.5" textLength="66.6" lengthAdjust="spacingAndGlyphs" fill="#000" stroke="#000" stroke-width="0.12" xml:space="preserve">n=40, <tspan font-style="italic">P</tspan> = .0010</text>
<path d="M376.3 254.9H387.4" stroke="#707070" stroke-width="0.9"/>
<path d="M376.3 272.3H387.4" stroke="#666" stroke-width="1.0" stroke-dasharray="1.4 1.6"/>
<text x="391.6" y="258" font-size="7.3" textLength="44" lengthAdjust="spacingAndGlyphs" fill="#151515" stroke="#151515" stroke-width="0.12">BDA positive,</text>
<text x="375.2" y="266.8" font-size="7.3" textLength="73.6" lengthAdjust="spacingAndGlyphs" fill="#151515" stroke="#151515" stroke-width="0.12">B/C and CD38 positive</text>
<text x="391.6" y="274.9" font-size="7.3" textLength="18.2" lengthAdjust="spacingAndGlyphs" fill="#151515" stroke="#151515" stroke-width="0.12">Other</text>
</svg>
</body></html>
